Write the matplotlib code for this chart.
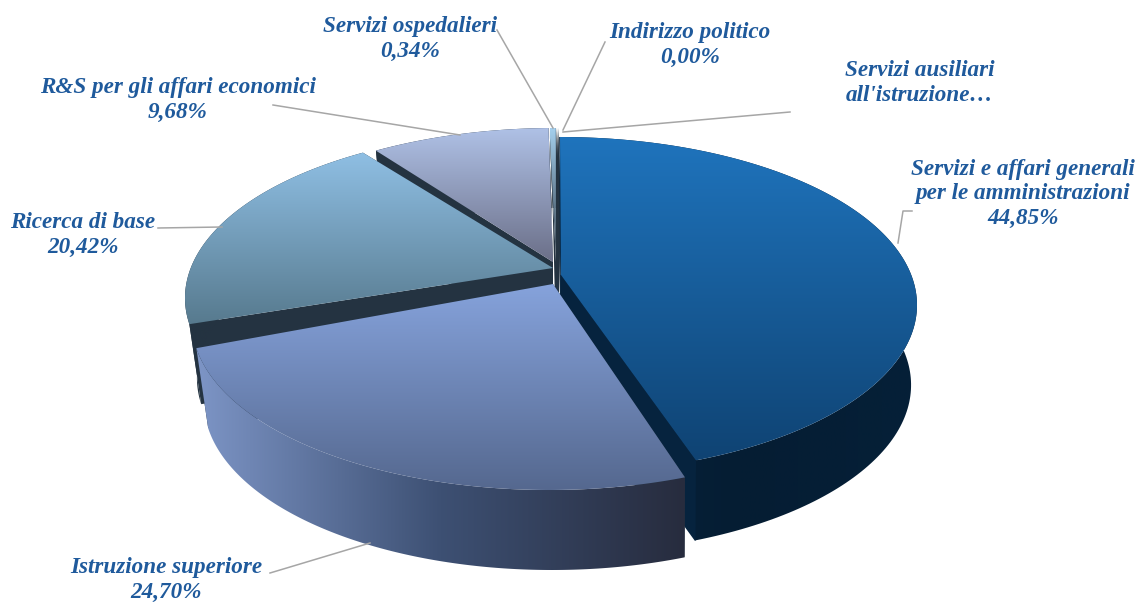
import numpy as np
import matplotlib
matplotlib.use("Agg")
import matplotlib.pyplot as plt
from matplotlib.colors import LinearSegmentedColormap
from matplotlib.patches import Polygon

# dati
names = ["Servizi e affari generali\nper le amministrazioni", "Istruzione superiore",
         "Ricerca di base", "R&S per gli affari economici", "Servizi ospedalieri",
         "Indirizzo politico", "Servizi ausiliari\nall'istruzione…"]
values = [44.85, 24.70, 20.42, 9.68, 0.34, 0.00, 0.01]
show_value = [True, True, True, True, True, True, False]

# layout: centro ellisse e vertice di ogni fetta (pixel)
centers = [(560, 305), (549, 322), (542, 298), (555, 296), (556, 296), (557, 296), (558, 296)]
apexes = [(561, 275), (553, 284), (553, 268), (553, 262), (556, 262), (557, 262), (558, 262)]
top_cols = [("#1f74bd", "#0f4373"), ("#86a3dc", "#55688f"), ("#8fbfe4", "#577a8e"),
            ("#afc1e6", "#6b6f88"), ("#a5d0ee", "#303c48"), ("#a5d0ee", "#303c48"), ("#a5d0ee", "#303c48")]
wall_cols = [("#08243d", "#051d33", "#052038"), ("#7d95c6", "#3d5073", "#272c3e"),
             ("#243341", "#243341", "#243341"), ("#243341", "#243341", "#243341"),
             ("#243341", "#243341", "#243341"), ("#243341", "#243341", "#243341"),
             ("#243341", "#243341", "#243341")]
draw_order = [6, 5, 4, 3, 2, 0, 1]

# etichette: posizione centro testo e linee guida
label_pos = [(1023, 194), (166, 580), (83, 235), (178, 100), (410, 39), (690, 45), (920, 83)]
leaders = [[(898, 243), (903, 211), (912, 211)], [(270, 573), (370, 543)], [(158, 228), (222, 227)],
           [(273, 105), (460, 135)], [(497, 30), (553, 128)], [(605, 42), (563, 130)],
           [(790, 112), (563, 132)]]

RX, RY = 357, 168
DEPTH = 80
BOTTOM_SCALE = 0.975
BOTTOM_SHIFT = 3
TILT = -0.19
LABEL_COLOR = "#1f5a9c"


def arc_points(theta, cx, cy, sx=1.0, dx=0, dy=0):
    # cerchio proiettato in prospettiva
    y = -np.cos(theta)
    x = np.sin(theta)
    yp = (y + TILT) / (1 + TILT * y)
    xp = x * np.sqrt(1 - TILT ** 2) / (1 + TILT * y)
    return np.column_stack([cx + dx + RX * sx * xp, cy + dy + RY * yp])


def grad_fill(ax, pts, cols, vertical=True, z=1):
    cmap = LinearSegmentedColormap.from_list("g", cols)
    x0, x1 = pts[:, 0].min(), pts[:, 0].max()
    y0, y1 = pts[:, 1].min(), pts[:, 1].max()
    g = np.linspace(0, 1, 256)
    arr = g.reshape(-1, 1) if vertical else g.reshape(1, -1)
    im = ax.imshow(arr, cmap=cmap, extent=(x0, x1 + 0.01, y1 + 0.01, y0), aspect="auto",
                   zorder=z, interpolation="bilinear")
    patch = Polygon(pts, closed=True, transform=ax.transData, fc="none", ec="none")
    ax.add_patch(patch)
    im.set_clip_path(patch)


fig = plt.figure(figsize=(11.37, 6.03), dpi=100)
ax = fig.add_axes([0, 0, 1, 1])

edges = np.radians(np.concatenate([[0], np.cumsum(values)]) * 3.6)
z = 1
for i in draw_order:
    t = np.linspace(edges[i], edges[i + 1], 160)
    cx, cy = centers[i]
    ax_x, ax_y = apexes[i]
    top = arc_points(t, cx, cy)
    bot = arc_points(t, cx, cy, sx=BOTTOM_SCALE, dx=BOTTOM_SHIFT, dy=DEPTH)
    apex = np.array([[ax_x, ax_y]])
    apex_bot = np.array([[ax_x, ax_y + DEPTH]])

    # pareti di taglio
    dark = "#06233e" if i == 0 else "#243341"
    for end_top, end_bot in [(top[:1], bot[:1]), (top[-1:], bot[-1:])]:
        edge = dark if i == 0 else "none"
        ax.add_patch(Polygon(np.vstack([apex, end_top, end_bot, apex_bot]), closed=True,
                             fc=dark, ec=edge, lw=1.2, zorder=z))
    z += 1
    # parete esterna
    wall = np.vstack([top, bot[::-1]])
    grad_fill(ax, wall, wall_cols[i], vertical=False, z=z)
    z += 1
    # faccia superiore
    face = np.vstack([apex, top])
    grad_fill(ax, face, top_cols[i], vertical=True, z=z)
    z += 1

for seg in leaders:
    xs, ys = zip(*seg)
    ax.plot(xs, ys, color="#a6a6a6", lw=1.1, zorder=z)

for name, val, show, pos in zip(names, values, show_value, label_pos):
    txt = name
    if show:
        txt += "\n" + f"{val:.2f}".replace(".", ",") + "%"
    ax.text(pos[0], pos[1], txt, ha="center", va="center", family="Liberation Serif",
            style="italic", weight="bold", fontsize=16.7, color=LABEL_COLOR,
            linespacing=1.2, zorder=z + 1)

ax.set_xlim(0, 1137)
ax.set_ylim(603, 0)
ax.axis("off")
fig.savefig("out.png", dpi=100)
